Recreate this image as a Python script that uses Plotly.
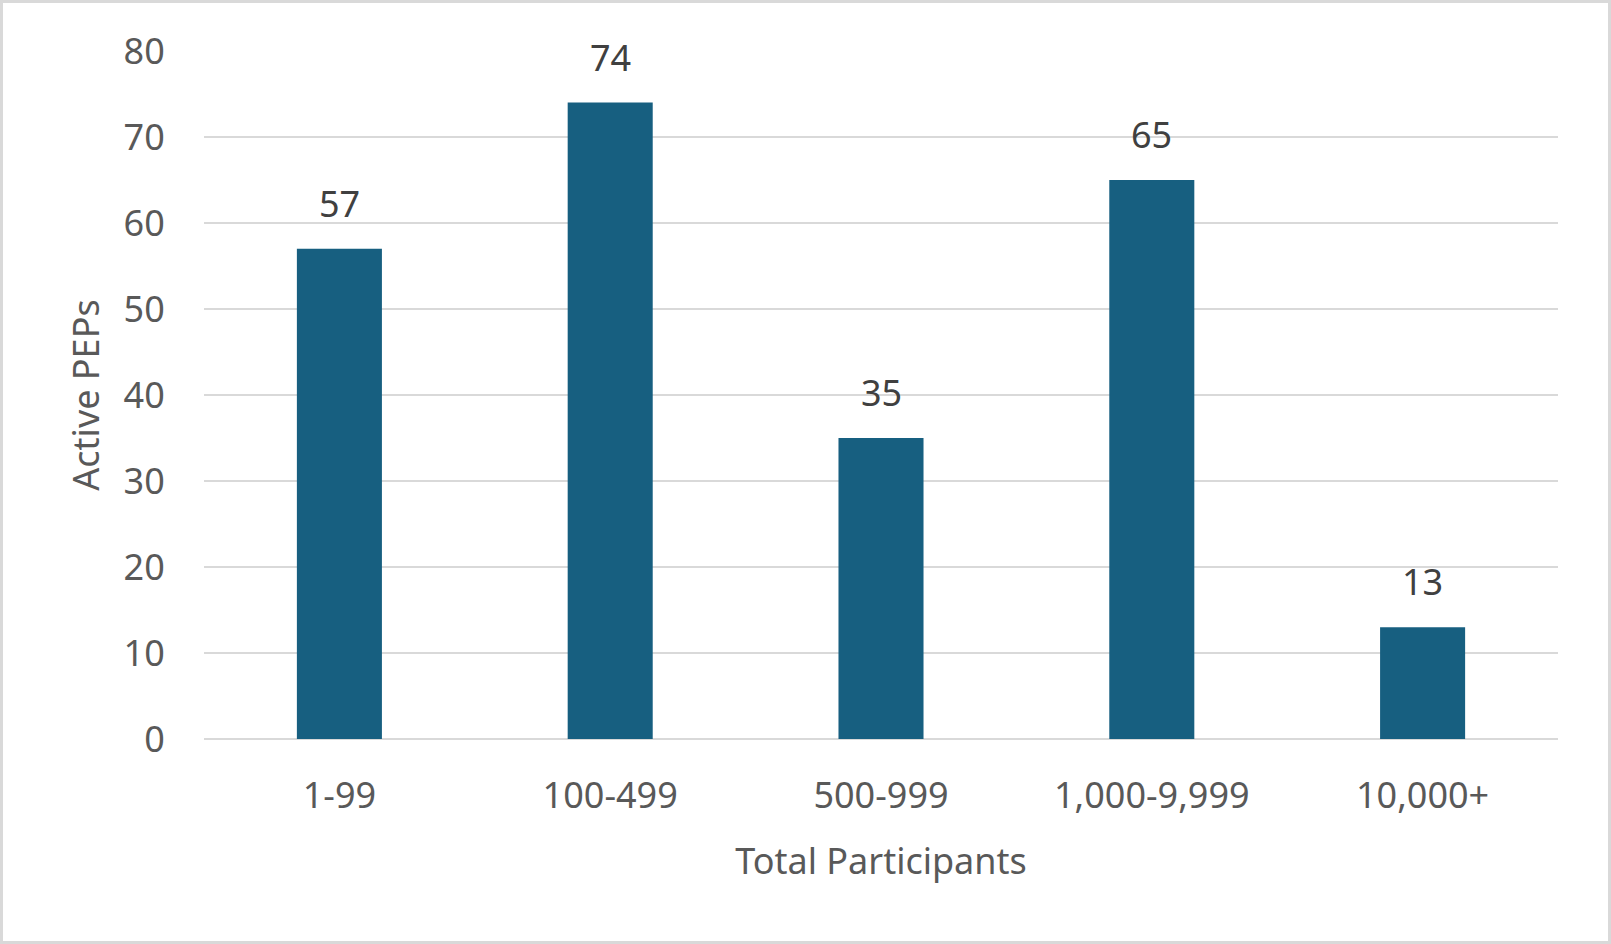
import plotly.graph_objects as go

categories = ["1-99", "100-499", "500-999", "1,000-9,999", "10,000+"]
values = [57, 74, 35, 65, 13]
y_ticks = [0, 10, 20, 30, 40, 50, 60, 70, 80]

W, H = 1611, 944
L, R, T, B = 204, 53, 51, 205
pw, ph = W - L - R, H - T - B

FONT = "Noto Sans"
FS = 36

fig = go.Figure()
fig.add_trace(go.Bar(
    x=categories, y=values,
    marker=dict(color="#175f80", line=dict(width=0)),
    width=0.314,
    hoverinfo="x+y",
))

for c, v in zip(categories, values):
    fig.add_annotation(
        x=c, y=v, text=str(v), showarrow=False,
        yanchor="bottom", yshift=19,
        font=dict(family=FONT, size=FS, color="#404040"),
    )

# outer border
fig.add_shape(
    type="rect", xref="paper", yref="paper",
    x0=(-L + 1.5) / pw, x1=(pw + R - 1.5) / pw,
    y0=(-B + 1.5) / ph, y1=(ph + T - 1.5) / ph,
    line=dict(color="#d9d9d9", width=3), fillcolor="rgba(0,0,0,0)", layer="below",
)

fig.update_layout(
    width=W, height=H,
    margin=dict(l=L, r=R, t=T, b=B, pad=0),
    paper_bgcolor="white", plot_bgcolor="white",
    showlegend=False,
    font=dict(family=FONT, color="#595959"),
    xaxis=dict(
        showgrid=False, zeroline=False, showline=False,
        tickfont=dict(family=FONT, size=FS, color="#595959"),
        ticks="outside", ticklen=25, tickcolor="rgba(0,0,0,0)",
        title=dict(text="Total Participants", font=dict(family=FONT, size=FS, color="#595959"), standoff=30),
    ),
    yaxis=dict(
        range=[0, 80], tickvals=y_ticks,
        showgrid=True, gridcolor="#d9d9d9", gridwidth=2,
        zeroline=True, zerolinecolor="#d9d9d9", zerolinewidth=2,
        showline=False,
        tickfont=dict(family=FONT, size=FS, color="#595959"),
        ticks="outside", ticklen=31, tickcolor="rgba(0,0,0,0)",
        title=dict(text="Active PEPs", font=dict(family=FONT, size=FS, color="#595959"), standoff=13),
    ),
)

fig.write_html("out.html")
